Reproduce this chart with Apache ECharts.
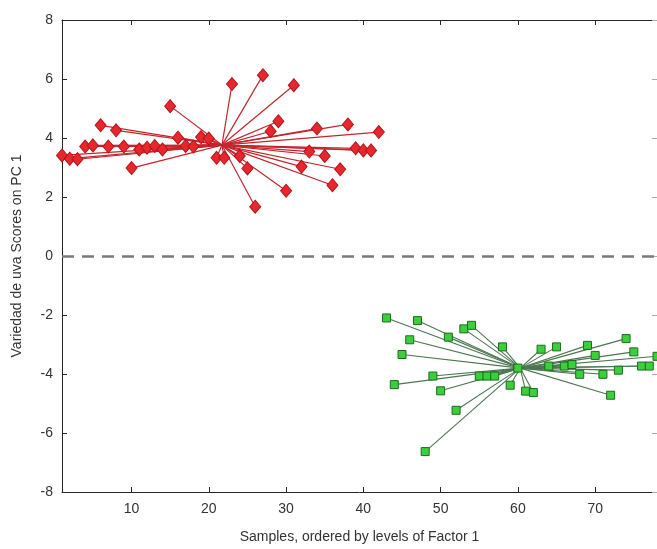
<!DOCTYPE html>
<html>
<head>
<meta charset="utf-8">
<script src="https://cdn.jsdelivr.net/npm/echarts@6/dist/echarts.min.js"></script>
<style>
  html, body { margin: 0; padding: 0; background: #fff; }
  #chart { width: 657px; height: 549px; }
</style>
</head>
<body>
<div id="chart"></div>
<script>
// Sample indices (ordered by levels of Factor 1) and their PC 1 scores
const redSamples = [1,2,3,4,5,6,7,8,9,10,11,12,13,14,15,16,17,18,19,20,21,22,23,24,25,26,27,28,29,30,31,32,33,34,35,36,37,38,39,40,41,42];
const redScores = [3.41,3.30,3.28,3.71,3.75,4.43,3.71,4.26,3.71,2.98,3.61,3.67,3.73,3.61,5.08,4.01,3.73,3.71,4.03,3.98,3.33,3.33,5.83,3.39,2.97,1.67,6.13,4.23,4.57,2.21,5.79,3.03,3.54,4.32,3.39,2.40,2.94,4.46,3.65,3.58,3.58,4.20];
const greenSamples = [43,44,45,46,47,48,49,50,51,52,53,54,55,56,57,58,59,60,61,62,63,64,65,66,67,68,69,70,71,72,73,74,75,76,77,78];
const greenScores = [-2.10,-4.36,-3.34,-2.84,-2.19,-6.63,-4.07,-4.57,-2.75,-5.23,-2.47,-2.35,-4.07,-4.07,-4.07,-3.08,-4.38,-3.80,-4.58,-4.63,-3.16,-3.73,-3.08,-3.73,-3.68,-4.01,-3.03,-3.37,-4.01,-4.72,-3.87,-2.80,-3.25,-3.73,-3.73,-3.40];
// Group centres the spokes are drawn to
const redCenter = [21.7, 3.76];
const greenCenter = [60.3, -3.80];
// Axis ticks
const xTicks = [10, 20, 30, 40, 50, 60, 70];
const yTicks = [-8, -6, -4, -2, 0, 2, 4, 6, 8];

const textColor = '#333';
const axisColor = '#262626';
const font = 'Liberation Sans, Arial, sans-serif';

function points(xs, ys) { return xs.map((x, i) => [x, ys[i]]); }
function spokes(xs, ys, c) { return xs.map((x, i) => ({ coords: [[x, ys[i]], c] })); }

const chart = echarts.init(document.getElementById('chart'), null, { renderer: 'canvas' });

chart.setOption({
  animation: false,
  backgroundColor: '#fff',
  grid: { left: 62, top: 20, width: 598, height: 472, containLabel: false },
  xAxis: [{
    type: 'value', min: 1, max: 78, position: 'bottom',
    name: 'Samples, ordered by levels of Factor 1',
    nameLocation: 'middle', nameGap: 38,
    nameTextStyle: { color: textColor, fontSize: 14, fontFamily: font },
    axisLine: { show: true, onZero: false, lineStyle: { color: axisColor, width: 1 } },
    axisTick: { show: true, inside: true, length: 5, customValues: xTicks, lineStyle: { color: axisColor } },
    axisLabel: { show: true, customValues: xTicks, color: textColor, fontSize: 14, fontFamily: font, margin: 10 },
    splitLine: { show: false }
  }, {
    type: 'value', min: 1, max: 78, position: 'top',
    axisLine: { show: true, onZero: false, lineStyle: { color: axisColor, width: 1 } },
    axisTick: { show: true, inside: true, length: 5, customValues: xTicks, lineStyle: { color: axisColor } },
    axisLabel: { show: false },
    splitLine: { show: false }
  }],
  yAxis: [{
    type: 'value', min: -8, max: 8, interval: 2, position: 'left',
    name: 'Variedad de uva Scores on PC 1',
    nameLocation: 'middle', nameGap: 38, nameRotate: 90,
    nameTextStyle: { color: textColor, fontSize: 14, fontFamily: font },
    axisLine: { show: true, onZero: false, lineStyle: { color: axisColor, width: 1 } },
    axisTick: { show: true, inside: true, length: 5, lineStyle: { color: axisColor } },
    axisLabel: { color: textColor, fontSize: 14, fontFamily: font, margin: 9,
      customValues: yTicks },
    splitLine: { show: false }
  }, {
    type: 'value', min: -8, max: 8, interval: 2, position: 'right',
    axisLine: { show: true, onZero: false, lineStyle: { color: axisColor, width: 1 } },
    axisTick: { show: true, inside: true, length: 5, lineStyle: { color: '#aaa' } },
    axisLabel: { show: false },
    splitLine: { show: false }
  }],
  series: [
    {
      type: 'lines', coordinateSystem: 'cartesian2d', z: 2, silent: true,
      lineStyle: { color: '#c3262c', width: 1.2, opacity: 1 },
      data: spokes(redSamples, redScores, redCenter)
    },
    {
      type: 'lines', coordinateSystem: 'cartesian2d', z: 2, silent: true,
      lineStyle: { color: '#4b7650', width: 1.1, opacity: 1 },
      data: spokes(greenSamples, greenScores, greenCenter)
    },
    {
      type: 'scatter', z: 3, symbol: 'diamond', symbolSize: [11, 13],
      itemStyle: { color: '#e8262c', borderColor: '#b0171d', borderWidth: 1, opacity: 1 },
      data: points(redSamples, redScores),
      markLine: {
        silent: true, symbol: 'none', label: { show: false },
        lineStyle: { color: '#7a7a7a', width: 2.5, type: [12, 8] },
        data: [{ yAxis: 0 }]
      }
    },
    {
      type: 'scatter', z: 3, symbol: 'rect', symbolSize: 8,
      itemStyle: { color: '#3ccf3c', borderColor: '#1d6b1d', borderWidth: 1, opacity: 1 },
      data: points(greenSamples, greenScores)
    }
  ]
});
</script>
</body>
</html>
